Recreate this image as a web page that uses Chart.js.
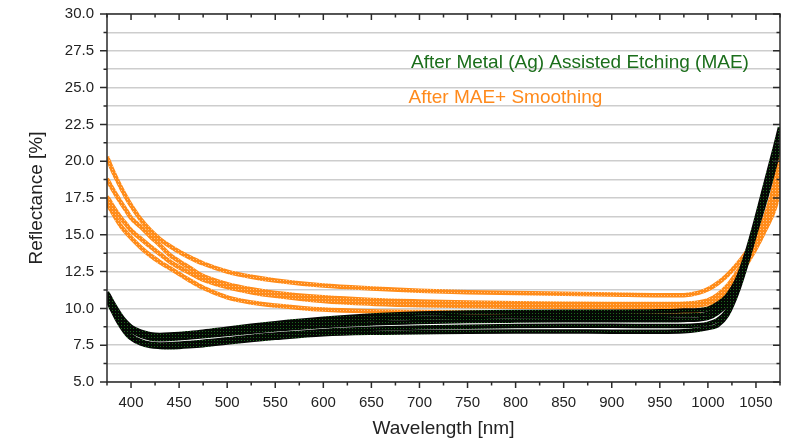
<!DOCTYPE html>
<html lang="en">
<head>
  <meta charset="utf-8">
  <title>Reflectance</title>
  <script src="https://cdn.jsdelivr.net/npm/chart.js@4.4.1/dist/chart.umd.min.js"></script>
  <style>
    html, body { margin: 0; padding: 0; background: #fff; }
  </style>
</head>
<body>
<canvas id="myChart" width="790" height="442"></canvas>

<script>
var wavelength = [375, 380, 385, 390, 395, 400, 410, 420, 430, 440, 450, 460, 475, 500, 525, 550, 600, 650, 700, 750, 800, 850, 900, 950, 975, 990, 1000, 1010, 1020, 1030, 1040, 1050, 1060, 1070, 1075];

// After Metal (Ag) Assisted Etching - reflectance [%]
var mae1 = [11.1, 10.5, 9.95, 9.45, 9.05, 8.75, 8.42, 8.25, 8.2, 8.22, 8.26, 8.32, 8.42, 8.62, 8.82, 9.0, 9.3, 9.52, 9.65, 9.72, 9.76, 9.78, 9.78, 9.8, 9.85, 9.88, 9.96, 10.3, 10.85, 11.9, 13.7, 16.0, 18.5, 21.0, 22.3];
var mae2 = [11.0, 10.4, 9.85, 9.35, 8.93, 8.62, 8.28, 8.1, 8.05, 8.07, 8.12, 8.17, 8.26, 8.44, 8.62, 8.78, 9.05, 9.25, 9.36, 9.42, 9.46, 9.48, 9.48, 9.5, 9.52, 9.55, 9.65, 10.0, 10.6, 11.7, 13.5, 15.8, 18.3, 20.7, 22.0];
var mae3 = [10.9, 10.3, 9.75, 9.25, 8.8, 8.5, 8.14, 7.96, 7.9, 7.92, 7.97, 8.02, 8.1, 8.26, 8.42, 8.56, 8.8, 8.98, 9.08, 9.14, 9.17, 9.19, 9.2, 9.2, 9.22, 9.25, 9.35, 9.7, 10.3, 11.5, 13.35, 15.6, 18.0, 20.4, 21.7];
var mae4 = [10.75, 10.1, 9.5, 8.95, 8.5, 8.15, 7.78, 7.6, 7.55, 7.56, 7.6, 7.65, 7.73, 7.9, 8.08, 8.22, 8.47, 8.62, 8.7, 8.76, 8.8, 8.82, 8.82, 8.8, 8.8, 8.85, 8.95, 9.2, 9.85, 11.2, 13.15, 15.4, 17.7, 20.1, 21.4];
var mae5 = [10.6, 9.95, 9.3, 8.75, 8.3, 7.98, 7.62, 7.44, 7.38, 7.36, 7.38, 7.42, 7.5, 7.68, 7.85, 8.0, 8.25, 8.35, 8.38, 8.42, 8.43, 8.43, 8.42, 8.42, 8.45, 8.55, 8.66, 8.85, 9.55, 11.0, 13.0, 15.25, 17.4, 19.8, 21.1];

// After MAE + Smoothing - reflectance [%]
var smooth1 = [20.3, 19.5, 18.8, 18.15, 17.55, 17.0, 16.05, 15.3, 14.7, 14.25, 13.85, 13.5, 13.05, 12.5, 12.15, 11.9, 11.55, 11.35, 11.2, 11.1, 11.05, 11.0, 10.95, 10.9, 10.9, 11.05, 11.3, 11.7, 12.25, 12.95, 13.8, 14.8, 16.3, 18.7, 21.2];
var smooth2 = [18.8, 18.2, 17.65, 17.15, 16.65, 16.15, 15.55, 14.9, 14.3, 13.65, 13.2, 12.8, 12.2, 11.65, 11.3, 11.05, 10.75, 10.57, 10.47, 10.4, 10.35, 10.32, 10.3, 10.3, 10.32, 10.4, 10.55, 10.9, 11.5, 12.4, 13.4, 14.5, 15.9, 18.0, 20.3];
var smooth3 = [17.6, 17.05, 16.55, 16.1, 15.7, 15.3, 14.75, 14.2, 13.7, 13.2, 12.8, 12.45, 11.95, 11.45, 11.1, 10.85, 10.5, 10.32, 10.22, 10.16, 10.12, 10.1, 10.08, 10.08, 10.1, 10.2, 10.35, 10.7, 11.3, 12.2, 13.2, 14.3, 15.6, 17.4, 19.3];
var smooth4 = [17.2, 16.6, 16.05, 15.55, 15.15, 14.8, 14.15, 13.6, 13.15, 12.75, 12.35, 11.95, 11.4, 10.75, 10.4, 10.2, 9.92, 9.8, 9.75, 9.72, 9.7, 9.7, 9.7, 9.7, 9.75, 9.85, 10.0, 10.4, 11.0, 11.95, 13.0, 14.1, 15.4, 16.9, 18.3];

var legendLabels = ['After Metal (Ag) Assisted Etching (MAE)', 'After MAE+ Smoothing'];
var xTickLabels = [400, 450, 500, 550, 600, 650, 700, 750, 800, 850, 900, 950, 1000, 1050];
var yTickLabels = ['5.0', '7.5', '10.0', '12.5', '15.0', '17.5', '20.0', '22.5', '25.0', '27.5', '30.0'];

var FONT = "'Liberation Sans', Arial, sans-serif";

/* little tiles so the thick lines look like rows of markers */
function tile(base, dot) {
  var c = document.createElement('canvas');
  c.width = 3; c.height = 3;
  var g = c.getContext('2d');
  g.fillStyle = base; g.fillRect(0, 0, 3, 3);
  g.fillStyle = dot; g.fillRect(1, 1, 1, 1);
  return g.createPattern(c, 'repeat');
}
var ctx = document.getElementById('myChart').getContext('2d');
var blackTile = tile('#050805', '#1d6a1d');
var orangeTile = tile('#ff8c1a', '#ffc48a');

function points(arr) {
  return wavelength.map(function (w, i) { return {x: w, y: arr[i]}; });
}
function series(arr, color) {
  return {
    data: points(arr),
    borderColor: color,
    borderWidth: 4.5,
    pointRadius: 0,
    fill: false,
    cubicInterpolationMode: 'monotone'
  };
}

// black sets first so they are painted on top of the orange ones
var datasets = [mae1, mae2, mae3, mae4, mae5].map(function (a) { return series(a, blackTile); })
  .concat([smooth1, smooth2, smooth3, smooth4].map(function (a) { return series(a, orangeTile); }));

/* frame, tick marks and the text legend */
var frameAndTicks = {
  id: 'frameAndTicks',
  afterDraw: function (chart) {
    var c = chart.ctx, a = chart.chartArea, x = chart.scales.x, y = chart.scales.y;
    c.save();
    c.strokeStyle = '#2a2a2a';
    c.lineWidth = 1.5;
    c.strokeRect(a.left, a.top, a.right - a.left, a.bottom - a.top);
    c.beginPath();
    x.ticks.forEach(function (t) {
      var px = x.getPixelForValue(t.value);
      var len = xTickLabels.indexOf(t.value) >= 0 ? 6 : 3.5;
      c.moveTo(px, a.bottom); c.lineTo(px, a.bottom + len);
      c.moveTo(px, a.top); c.lineTo(px, a.top + len);
    });
    y.ticks.forEach(function (t) {
      var py = y.getPixelForValue(t.value);
      var len = yTickLabels.indexOf(t.value.toFixed(1)) >= 0 ? 7 : 3.5;
      c.moveTo(a.left, py); c.lineTo(a.left - len, py);
      c.moveTo(a.right, py); c.lineTo(a.right - len, py);
    });
    c.stroke();

    c.font = '19px ' + FONT;
    c.textBaseline = 'alphabetic';
    c.fillStyle = '#1b6e1b';
    c.fillText(legendLabels[0], 411, 68);
    c.fillStyle = '#ff8a1c';
    c.fillText(legendLabels[1], 408.5, 103);
    c.restore();
  }
};

var chart = new Chart(ctx, {
  type: 'line',
  data: { datasets: datasets },
  options: {
    responsive: false,
    animation: false,
    events: [],
    layout: { padding: { top: 14, right: 10, left: 0, bottom: 0 } },
    plugins: { legend: { display: false }, tooltip: { enabled: false } },
    scales: {
      x: {
        type: 'linear',
        min: 375,
        max: 1075,
        afterFit: function (s) { s.height = 60; s.paddingLeft = 0; s.paddingRight = 0; },
        ticks: {
          stepSize: 25,
          autoSkip: false,
          maxRotation: 0,
          padding: 12,
          color: '#222',
          font: { size: 15, family: FONT },
          callback: function (v) { return xTickLabels.indexOf(v) >= 0 ? String(v) : ''; }
        },
        grid: { display: false, drawTicks: false },
        border: { display: false },
        title: {
          display: true,
          text: 'Wavelength [nm]',
          color: '#222',
          font: { size: 19, family: FONT },
          padding: { top: 0, bottom: 2 }
        }
      },
      y: {
        min: 5,
        max: 30,
        afterFit: function (s) { s.width = 107; s.paddingTop = 0; s.paddingBottom = 0; },
        ticks: {
          stepSize: 1.25,
          autoSkip: false,
          padding: 13,
          color: '#222',
          font: { size: 15, family: FONT },
          callback: function (v) {
            var s = Number(v).toFixed(1);
            return yTickLabels.indexOf(s) >= 0 ? s : '';
          }
        },
        grid: { color: '#cdcdcd', lineWidth: 1.5, drawTicks: false },
        border: { display: false },
        title: {
          display: true,
          text: 'Reflectance [%]',
          color: '#222',
          font: { size: 19, family: FONT },
          padding: { top: 25, bottom: 0 }
        }
      }
    }
  },
  plugins: [frameAndTicks]
});
</script>
</body>
</html>
